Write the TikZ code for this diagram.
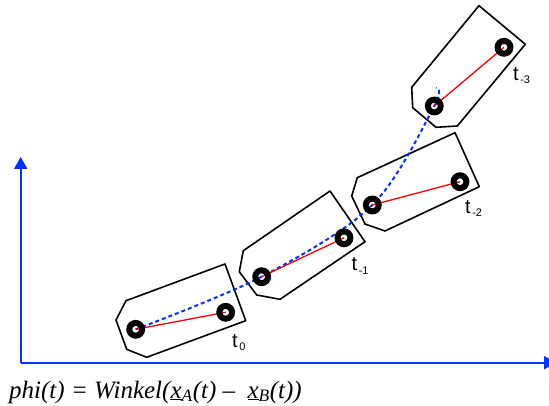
\documentclass[tikz,border=0pt]{standalone}
\usepackage{fontspec}
\setmainfont{Liberation Serif}
\newfontfamily\arial{Liberation Sans}
\usetikzlibrary{arrows.meta}
\definecolor{axisblue}{RGB}{0,51,255}

\begin{document}
\begin{tikzpicture}[
                    x=1pt, y=-1pt,
                    body/.style={draw, black, line width=1.6pt, line join=round},
                    joint/.style={draw, black, circle, line width=6pt, minimum size=12.8pt, inner sep=0pt},
                    arm/.style={red, line width=1.3pt},
                    traj/.style={axisblue, line width=2pt, dash pattern=on 4pt off 3pt},
                    axis/.style={axisblue, line width=2.2pt, -{Triangle[width=13pt, length=12pt]}},
                    lbl/.style={anchor=base west, inner sep=0pt, font=\arial\fontsize{20}{20}\selectfont}
                ]
                \useasboundingbox (0,0) rectangle (549,406);
                \coordinate (o) at (20.7,362.7);
                \coordinate (ytip) at (20.7,157);
                \coordinate (xtip) at (556,362.7);
                \draw[axis] (o) -- (ytip);
                \draw[axis] (o) -- (xtip);

                % the four poses
                \draw[body] (116,320) -- (126,300.7) -- (225,264) -- (245.7,320.7) -- (146.7,357.3) -- (126.7,349.3) -- cycle;
                \draw[body] (239.3,271.7) -- (243.3,250.7) -- (330,191) -- (365,241.7) -- (280,299.3) -- (256.7,295) -- cycle;
                \draw[body] (351.7,196) -- (357.3,177.7) -- (455,132.7) -- (479.3,186.7) -- (385,231) -- (365,224) -- cycle;
                \draw[body] (411.7,87.3) -- (479,5.7) -- (525.3,44.3) -- (457.3,126) -- (436,127.3) -- (412.7,107.7) -- cycle;

                \foreach \i/\ax/\ay/\bx/\by in {0/135.7/329.3/225.7/312.3, 1/261.7/276.7/344/237.8, 2/372.3/205/460/181.7, 3/434.3/106/504/47.3}{
                        \coordinate (a\i) at (\ax,\ay);
                        \coordinate (b\i) at (\bx,\by);
                    }
                \coordinate (top) at (436,88);
                \draw[traj] plot[smooth, tension=0.55] coordinates {(a0) (a1) (a2) (a3) (top)};

                \foreach \i in {0,1,2,3}{
                        \draw[arm] (a\i) -- (b\i);
                        \node[joint] (ja\i) at (a\i) {};
                        \node[joint] (jb\i) at (b\i) {};
                    }

                \node[lbl] (t0) at (232,347.5) {t\raisebox{-3pt}{\fontsize{11}{11}\selectfont\kern1.5pt 0}};
                \node[lbl] (t1) at (351.5,271) {t\raisebox{-3pt}{\fontsize{11}{11}\selectfont\kern1.5pt -1}};
                \node[lbl] (t2) at (465,214) {t\raisebox{-3pt}{\fontsize{11}{11}\selectfont\kern1.5pt -2}};
                \node[lbl] (t3) at (513,81) {t\raisebox{-3pt}{\fontsize{11}{11}\selectfont\kern1.5pt -3}};

                \node[anchor=base west, inner sep=0pt, font=\itshape\fontsize{25}{25}\selectfont] (phi) at (9,398)
                    {phi(t) = Winkel(\underline{x}\textsubscript{A}(t) –\ \ \underline{x}\textsubscript{B}(t))};
            \end{tikzpicture}
\end{document}
